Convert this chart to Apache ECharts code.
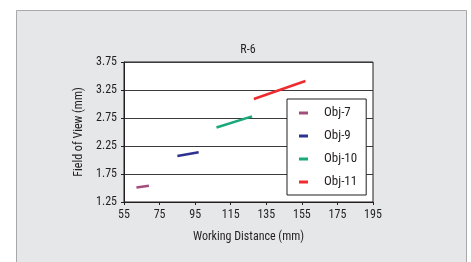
<!DOCTYPE html>
<html>
<head>
<meta charset="utf-8">
<script src="https://cdn.jsdelivr.net/npm/echarts@6/dist/echarts.min.js"></script>
<style>
  html, body { margin: 0; padding: 0; background: #ffffff; }
  #chart { width: 471px; height: 262px; }
</style>
</head>
<body>
<div id="chart"></div>
<script>
// data
var seriesNames = ['Obj-7', 'Obj-9', 'Obj-10', 'Obj-11']
var obj7 = [[62, 1.51], [69, 1.54]]
var obj9 = [[85, 2.07], [97, 2.14]]
var obj10 = [[107, 2.58], [127, 2.78]]
var obj11 = [[128, 3.09], [157, 3.41]]
var seriesColors = ['#a24d7c', '#2e3192', '#1aa97b', '#ee2b2e']

var font = '"Roboto Condensed", "DejaVu Sans Condensed", sans-serif'
var textColor = '#231f20'

var chart = echarts.init(document.getElementById('chart'))

var allData = [obj7, obj9, obj10, obj11]
var series = seriesNames.map(function (name, i) {
  return {
    name: name,
    type: 'line',
    data: allData[i],
    symbol: 'none',
    lineStyle: { color: seriesColors[i], width: 2.5 },
    itemStyle: { color: seriesColors[i] }
  }
})

chart.setOption({
  animation: false,
  textStyle: { fontFamily: font, color: textColor },
  graphic: [
    { // grey panel behind everything
      type: 'rect',
      z: -10,
      shape: { x: 16.5, y: 10.5, width: 450, height: 270 },
      style: { fill: '#e6e7e8', stroke: '#a7a9ac', lineWidth: 1 }
    }
  ],
  title: {
    text: 'R-6',
    left: 243,
    top: 39,
    textAlign: 'center',
    textStyle: { fontFamily: font, fontSize: 12, fontWeight: 'normal', color: textColor }
  },
  grid: {
    left: 124, top: 62, width: 249, height: 140,
    show: true, backgroundColor: '#ffffff', borderColor: '#231f20', borderWidth: 1
  },
  legend: {
    orient: 'vertical',
    left: 287, top: 99,
    padding: [7, 9, 6, 12],
    itemGap: 9,
    itemWidth: 9, itemHeight: 3,
    icon: 'rect',
    backgroundColor: '#ffffff',
    borderColor: '#231f20', borderWidth: 1,
    textStyle: { fontFamily: font, fontSize: 13, lineHeight: 14, color: textColor, padding: [0, 0, 0, 11] },
    data: seriesNames
  },
  xAxis: {
    type: 'value',
    min: 55, max: 195, interval: 20,
    name: 'Working Distance (mm)',
    nameLocation: 'middle', nameGap: 29,
    nameTextStyle: { fontFamily: font, fontSize: 12, color: textColor },
    axisLine: { lineStyle: { color: '#231f20' } },
    axisTick: { show: true, length: 3, lineStyle: { color: '#231f20' } },
    axisLabel: { fontFamily: font, fontSize: 12, color: textColor, margin: 7 },
    splitLine: { show: false }
  },
  yAxis: {
    type: 'value',
    min: 1.25, max: 3.75, interval: 0.5,
    name: 'Field of View (mm)',
    nameLocation: 'middle', nameGap: 29,
    nameTextStyle: { fontFamily: font, fontSize: 12, color: textColor },
    axisLine: { show: true, lineStyle: { color: '#231f20' } },
    axisTick: { show: true, length: 3, lineStyle: { color: '#231f20' } },
    axisLabel: { fontFamily: font, fontSize: 12, color: textColor, margin: 7,
      formatter: function (v) { return v.toFixed(2) } },
    splitLine: { show: true, lineStyle: { color: '#3a3a3c', width: 1.2 } }
  },
  series: series
})
</script>
</body>
</html>
